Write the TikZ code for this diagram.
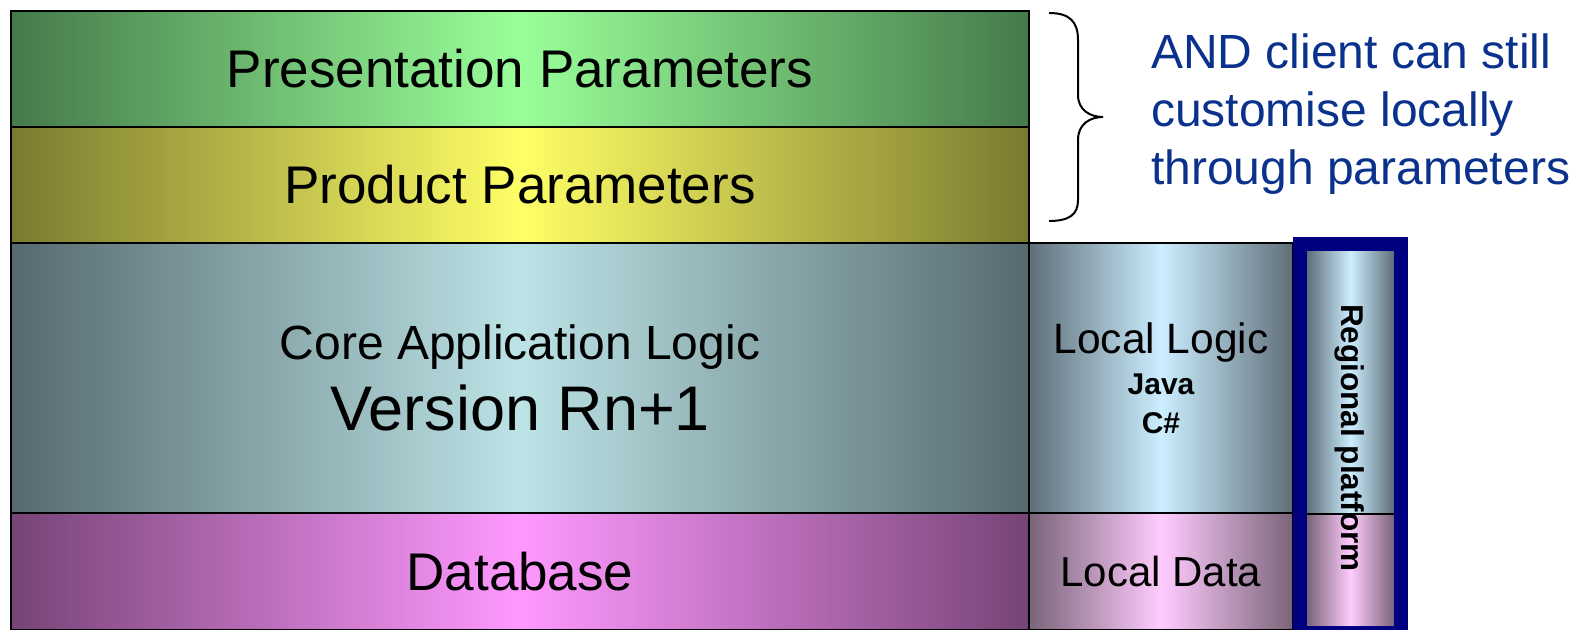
\documentclass[tikz,border=0pt]{standalone}
\usepackage{fontspec}
\setmainfont{Liberation Sans}
\usetikzlibrary{positioning}
\usepackage{xcolor}

\definecolor{presdark}{RGB}{69,122,75}
\definecolor{preslight}{RGB}{153,255,153}
\definecolor{proddark}{RGB}{122,122,48}
\definecolor{prodlight}{RGB}{255,255,102}
\definecolor{coredark}{RGB}{86,106,110}
\definecolor{corelight}{RGB}{188,227,230}
\definecolor{dbdark}{RGB}{119,68,119}
\definecolor{dblight}{RGB}{255,153,255}
\definecolor{locdark}{RGB}{94,110,120}
\definecolor{loclight}{RGB}{204,238,255}
\definecolor{ldatadark}{RGB}{122,100,120}
\definecolor{ldatalight}{RGB}{255,204,255}
\definecolor{regnavy}{RGB}{0,0,128}
\definecolor{notetext}{RGB}{10,50,140}

\tikzset{
    grad/.style 2 args={left color=#1, right color=#1, middle color=#2},
    layer/.style={draw=black, line width=2pt, inner sep=0pt, outer sep=0pt,
        minimum width=1018pt, align=center, text=black},
    sidebox/.style={draw=black, line width=2pt, inner sep=0pt, outer sep=0pt,
        minimum width=264pt, align=center, text=black},
}

\begin{document}
\begin{tikzpicture}[x=1pt,y=-1pt]
            \def\big{\fontsize{53}{60}\selectfont}
            \useasboundingbox (0,0) rectangle (1579,629);

            \begin{scope}
                \clip (0,0) rectangle (1579,629);

                \node[layer, grad={presdark}{preslight}, minimum height=116pt, font=\big] (pres) at (520,69) {Presentation Parameters};
                \node[layer, grad={proddark}{prodlight}, minimum height=116pt, font=\big, below=0pt of pres] (prod) {Product Parameters};
                \node[layer, grad={coredark}{corelight}, minimum height=270pt, font=\fontsize{48}{71}\selectfont, below=0pt of prod] (core)
                    {Core Application Logic\\{\fontsize{63}{71}\selectfont Version Rn+1}};
                \node[layer, grad={dbdark}{dblight}, minimum height=117pt, font=\big, below=0pt of core] (db) {Database};

                \node[sidebox, grad={locdark}{loclight}, minimum height=270pt, font=\bfseries\fontsize{30}{37}\selectfont, right=0pt of core] (loclogic)
                    {{\mdseries\fontsize{42.5}{40}\selectfont Local Logic}\\[4pt]Java\\[2pt]C\#};
                \node[sidebox, grad={ldatadark}{ldatalight}, minimum height=117pt, font=\fontsize{42}{48}\selectfont, right=0pt of db] (locdata) {Local Data};

                % regional platform
                \shade[grad={locdark}{loclight}] (1307,251) rectangle (1394,514);
                \shade[grad={ldatadark}{ldatalight}] (1307,514) rectangle (1394,626);
                \draw[line width=2pt] (1307,514) -- (1394,514);
                \draw[regnavy, line width=14pt] (1300,244) rectangle (1401,633);
                \node[rotate=-90, font=\bfseries\fontsize{31.5}{36}\selectfont] (regional) at (1350,438) {Regional platform};
            \end{scope}

            \draw[line width=2pt] (1049,13) .. controls (1070,13) and (1078,22) .. (1078,40)
                -- (1078,95) .. controls (1078,110) and (1090,117) .. (1103,117)
                .. controls (1090,117) and (1078,124) .. (1078,140)
                -- (1078,200) .. controls (1078,214) and (1070,221) .. (1049,221);

            \node[anchor=base west, align=left, inner sep=0pt, text=notetext, font=\fontsize{48}{58}\selectfont] (note) at (1151,184)
                {AND client can still\\customise locally\\through parameters};
        \end{tikzpicture}
\end{document}
